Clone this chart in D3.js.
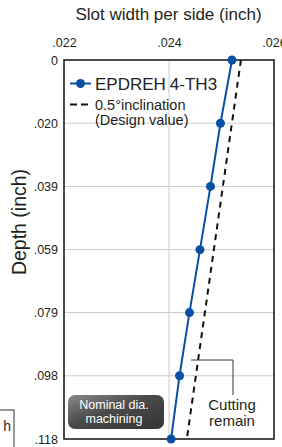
<!DOCTYPE html>
<html><head><meta charset="utf-8">
<script src="https://cdn.jsdelivr.net/npm/d3@7"></script>
<style>body{margin:0;background:#fff}svg{display:block;font-family:"Liberation Sans",Arial,sans-serif}</style>
</head><body><svg id="c" width="282" height="447"></svg>
<script>
const depthTicks = [0, 0.0197, 0.0394, 0.0591, 0.0787, 0.0984, 0.1181];
const depthLabels = ["0", ".020", ".039", ".059", ".079", ".098", ".118"];
const widthTicks = [0.022, 0.024, 0.026];
const widthLabels = [".022", ".024", ".026"];
const measuredDepth = [0, 0.0197, 0.0394, 0.0591, 0.0787, 0.0984, 0.1181];
const measuredWidth = [0.0252, 0.02498, 0.02479, 0.02459, 0.02439, 0.02420, 0.02404];
const designDepth = [0, 0.1181];
const designWidth = [0.02537, 0.02434];

const svg = d3.select("#c");
const L = 64, R = 274, T = 60, B = 439;
const x = d3.scaleLinear().domain([0.022, 0.026]).range([L, R]);
const y = d3.scaleLinear().domain([0, 0.1181]).range([T, B]);
const txt = "#231f20", blue = "#0a4fa6";

// cropped neighbour box
svg.append("rect").attr("x", -50).attr("y", 410).attr("width", 64).attr("height", 60)
  .attr("fill", "#fff").attr("stroke", "#333").attr("stroke-width", 1);
svg.append("text").attr("x", 11).attr("y", 431).attr("text-anchor", "end")
  .attr("font-size", 14).attr("fill", txt).text("h");

// grid
svg.append("g").selectAll("line").data(depthTicks.slice(1, -1)).join("line")
  .attr("x1", L).attr("x2", R).attr("y1", d => y(d)).attr("y2", d => y(d))
  .attr("stroke", "#cccccc").attr("stroke-width", 1);
svg.append("g").selectAll("line").data(widthTicks.slice(1, -1)).join("line")
  .attr("y1", T).attr("y2", B).attr("x1", d => x(d)).attr("x2", d => x(d))
  .attr("stroke", "#cccccc").attr("stroke-width", 1);

// axes labels via d3 axes
const xAxis = d3.axisTop(x).tickValues(widthTicks).tickFormat((d, i) => widthLabels[i]).tickSize(0).tickPadding(0);
const gx = svg.append("g").attr("transform", `translate(0,${46.5})`).call(xAxis);
gx.select(".domain").remove();
gx.selectAll("text").attr("font-size", 12.5).attr("fill", txt).attr("font-family", "Liberation Sans, Arial, sans-serif").attr("dy", 0);

const yAxis = d3.axisLeft(y).tickValues(depthTicks).tickFormat((d, i) => depthLabels[i]).tickSize(0).tickPadding(6);
const gy = svg.append("g").attr("transform", `translate(${L},0)`).call(yAxis);
gy.select(".domain").remove();
gy.selectAll("text").attr("font-size", 12.5).attr("fill", txt).attr("font-family", "Liberation Sans, Arial, sans-serif");

// titles
svg.append("text").attr("x", 168.5).attr("y", 20).attr("text-anchor", "middle")
  .attr("font-size", 17).attr("fill", txt).text("Slot width per side (inch)");
svg.append("text").attr("transform", "translate(26,222) rotate(-90)").attr("text-anchor", "middle")
  .attr("font-size", 19.5).attr("fill", txt).text("Depth (inch)");

// nominal box
const defs = svg.append("defs");
const gr = defs.append("linearGradient").attr("id", "gb").attr("x1", 0).attr("y1", 0).attr("x2", 1).attr("y2", 1);
gr.append("stop").attr("offset", "0%").attr("stop-color", "#8a8a8a");
gr.append("stop").attr("offset", "45%").attr("stop-color", "#4a4a4a");
gr.append("stop").attr("offset", "100%").attr("stop-color", "#333333");
svg.append("rect").attr("x", 68).attr("y", 395).attr("width", 96).attr("height", 34).attr("rx", 7)
  .attr("fill", "url(#gb)");
svg.append("text").attr("x", 114).attr("y", 409).attr("text-anchor", "middle")
  .attr("font-size", 12.5).attr("fill", "#fff").text("Nominal dia.");
svg.append("text").attr("x", 114).attr("y", 423).attr("text-anchor", "middle")
  .attr("font-size", 12.5).attr("fill", "#fff").text("machining");

// cutting remain annotation
svg.append("path").attr("d", "M191,360H233V395").attr("fill", "none").attr("stroke", "#333").attr("stroke-width", 1);
svg.append("text").attr("x", 232).attr("y", 410).attr("text-anchor", "middle")
  .attr("font-size", 15).attr("fill", txt).text("Cutting");
svg.append("text").attr("x", 232).attr("y", 425.5).attr("text-anchor", "middle")
  .attr("font-size", 15).attr("fill", txt).text("remain");

// design line
const line = d3.line().x(d => x(d[0])).y(d => y(d[1]));
svg.append("path").datum(designWidth.map((w, i) => [w, designDepth[i]])).attr("d", line)
  .attr("fill", "none").attr("stroke", "#111").attr("stroke-width", 2).attr("stroke-dasharray", "6,5");

// measured line
const pts = measuredWidth.map((w, i) => [w, measuredDepth[i]]);
svg.append("path").datum(pts).attr("d", line).attr("fill", "none").attr("stroke", blue).attr("stroke-width", 2);

// frame
svg.append("rect").attr("x", L).attr("y", T).attr("width", R - L).attr("height", B - T)
  .attr("fill", "none").attr("stroke", "#111").attr("stroke-width", 1.5);

svg.append("g").selectAll("circle").data(pts).join("circle")
  .attr("cx", d => x(d[0])).attr("cy", d => y(d[1])).attr("r", 4.5).attr("fill", blue);

// legend
svg.append("line").attr("x1", 70).attr("x2", 91).attr("y1", 83.5).attr("y2", 83.5).attr("stroke", blue).attr("stroke-width", 2);
svg.append("circle").attr("cx", 80.5).attr("cy", 83.5).attr("r", 4.5).attr("fill", blue);
const lt = svg.append("text").attr("x", 95).attr("y", 90).attr("font-size", 17).attr("fill", txt);
lt.append("tspan").text("EPDREH");
lt.append("tspan").attr("dx", 4).text("4-TH3");
svg.append("line").attr("x1", 70).attr("x2", 91).attr("y1", 104.5).attr("y2", 104.5).attr("stroke", "#111").attr("stroke-width", 2).attr("stroke-dasharray", "7,4");
svg.append("text").attr("x", 95).attr("y", 109.5).attr("font-size", 14.5).attr("fill", txt).text("0.5°inclination");
svg.append("text").attr("x", 95).attr("y", 124.5).attr("font-size", 14.5).attr("fill", txt).text("(Design value)");
</script></body></html>
